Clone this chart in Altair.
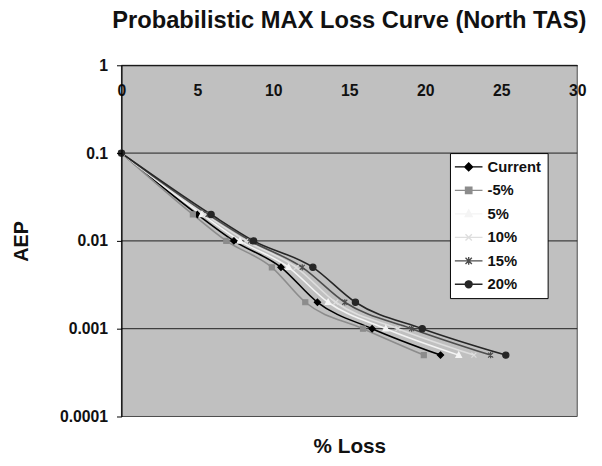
import altair as alt
import pandas as pd

series = ["Current", "-5%", "5%", "10%", "15%", "20%"]
aep = [0.1, 0.02, 0.01, 0.005, 0.002, 0.001, 0.0005]
loss_current = [0, 5.0, 7.4, 10.5, 12.9, 16.5, 21.0]
loss_m5 = [0, 4.7, 6.9, 9.9, 12.1, 15.9, 19.9]
loss_p5 = [0, 5.3, 7.8, 11.0, 13.6, 17.4, 22.2]
loss_p10 = [0, 5.5, 8.2, 11.5, 14.1, 18.2, 23.2]
loss_p15 = [0, 5.7, 8.5, 11.9, 14.7, 19.1, 24.3]
loss_p20 = [0, 5.9, 8.7, 12.6, 15.4, 19.8, 25.3]
x_ticks = [0, 5, 10, 15, 20, 25, 30]
y_ticks = [1, 0.1, 0.01, 0.001, 0.0001]

colors = ["#000000", "#8c8c8c", "#f4f4f4", "#dedede", "#4d4d4d", "#262626"]
marker_paths = [
    "M0,-1L1,0L0,1L-1,0Z",
    "M-0.8,-0.8L0.8,-0.8L0.8,0.8L-0.8,0.8Z",
    "M0,-1L0.9,0.7L-0.9,0.7Z",
    "M-0.8,-0.8L0.8,0.8M-0.8,0.8L0.8,-0.8",
    "M-0.8,-0.8L0.8,0.8M-0.8,0.8L0.8,-0.8M0,-1L0,1",
    "M1,0A1,1,0,1,1,-1,0A1,1,0,1,1,1,0Z",
]
# legend symbols: a short line with the marker in the middle
c = 0.71
s = 0.57
legend_paths = [
    f"M-1.29,0L2.71,0M{c},{-s}L{c+s},0L{c},{s}L{c-s},0Z",
    f"M-1.29,0L2.71,0M{c-0.46},-0.46L{c+0.46},-0.46L{c+0.46},0.46L{c-0.46},0.46Z",
    f"M-1.29,0L2.71,0M{c},-0.57L{c+0.5},0.4L{c-0.5},0.4Z",
    f"M-1.29,0L2.71,0M{c-0.46},-0.46L{c+0.46},0.46M{c-0.46},0.46L{c+0.46},-0.46",
    f"M-1.29,0L2.71,0M{c-0.46},-0.46L{c+0.46},0.46M{c-0.46},0.46L{c+0.46},-0.46M{c},-0.57L{c},0.57",
    f"M-1.29,0L2.71,0M{c+0.5},0A0.5,0.5,0,1,1,{c-0.5},0A0.5,0.5,0,1,1,{c+0.5},0Z",
]

losses = [loss_current, loss_m5, loss_p5, loss_p10, loss_p15, loss_p20]
rows = []
for name, vals in zip(series, losses):
    for a, l in zip(aep, vals):
        rows.append({"series": name, "loss": l, "aep": a})
df = pd.DataFrame(rows)
grid_df = pd.DataFrame({"tick": y_ticks[1:-1]})

FONT = "Liberation Sans"
W, H = 462, 356

y_axis = alt.Axis(
    values=y_ticks,
    labelExpr="datum.value >= 0.001 ? format(datum.value, '~g') : '0.0001'",
    labelFont=FONT, labelFontSize=16, labelFontWeight="bold", labelColor="#111",
    tickSize=5, tickColor="#000", labelPadding=9,
    domainColor="#000", domainWidth=1.2,
    grid=False, zindex=1,
    title="AEP", titleFont=FONT, titleFontSize=20, titleFontWeight="bold", titleColor="#111",
    titleX=-91, titleY=H / 2,
)
x_axis = alt.Axis(
    orient="top", values=x_ticks, labelFlush=False, ticks=False, tickSize=0,
    labelPadding=-26, labelBaseline="middle",
    labelFont=FONT, labelFontSize=16, labelFontWeight="bold", labelColor="#111",
    domainColor="#000", domainWidth=1.2, grid=False, zindex=1,
    title="% Loss", titleFont=FONT, titleFontSize=21, titleFontWeight="bold",
    titleColor="#111", titleX=W / 2, titleY=H + 36, titleBaseline="alphabetic",
)

x_scale = alt.Scale(domain=[0, 30])
y_scale = alt.Scale(type="log", domain=[0.0001, 1])
color_scale = alt.Scale(domain=series, range=colors)

background = alt.Chart().mark_rect(fill="#c0c0c0", stroke="#4a4a4a", strokeWidth=1).encode(
    x=alt.X(datum=0, scale=x_scale, axis=x_axis),
    x2=alt.datum(30),
    y=alt.Y(datum=1, scale=y_scale, axis=y_axis),
    y2=alt.datum(0.0001),
)

grid = alt.Chart(grid_df).mark_rule(color="#1e1e1e", strokeWidth=1).encode(
    y=alt.Y("tick:Q", scale=y_scale, axis=y_axis),
)

lines = alt.Chart(df).mark_line(strokeWidth=1.6, interpolate="monotone").encode(
    x=alt.X("loss:Q", scale=x_scale, axis=x_axis),
    y=alt.Y("aep:Q", scale=y_scale, axis=y_axis),
    color=alt.Color("series:N", scale=color_scale, legend=None),
    detail="series:N",
)

points = alt.Chart(df).mark_point(filled=True, size=40, strokeWidth=1.2, opacity=1).encode(
    x=alt.X("loss:Q", scale=x_scale, axis=x_axis),
    y=alt.Y("aep:Q", scale=y_scale, axis=y_axis),
    color=alt.Color("series:N", scale=color_scale, legend=None),
    stroke=alt.Stroke("series:N", scale=alt.Scale(domain=series, range=colors), legend=None),
    shape=alt.Shape("series:N", scale=alt.Scale(domain=series, range=marker_paths), legend=None),
)

leg_common = dict(
    orient="none", legendX=333, legendY=89, title=None,
    fillColor="#ffffff", strokeColor="#000000", padding=6,
    labelFont=FONT, labelFontSize=15, labelFontWeight="bold", labelColor="#111",
    labelOffset=16, rowPadding=7.8, symbolSize=196, symbolStrokeWidth=1.4,
)

legend_layer = alt.Chart(df).transform_filter("false").mark_point(
    filled=True, opacity=1, strokeWidth=1.4
).encode(
    color=alt.Color("series:N", scale=alt.Scale(domain=series, range=colors), legend=alt.Legend(**leg_common)),
    stroke=alt.Stroke("series:N", scale=alt.Scale(domain=series, range=colors), legend=alt.Legend(**leg_common)),
    shape=alt.Shape("series:N", scale=alt.Scale(domain=series, range=legend_paths), legend=alt.Legend(**leg_common)),
)

chart = (
    alt.layer(background, grid, lines, points, legend_layer)
    .resolve_scale(color="independent", stroke="independent", shape="independent")
    .properties(
        width=W, height=H,
        background="#ffffff",
        autosize=alt.AutoSizeParams(type="none"),
        padding={"left": 115, "top": 55, "right": 17, "bottom": 39},
        title=alt.Title(
            "Probabilistic MAX Loss Curve (North TAS)",
            font=FONT, fontSize=24, fontWeight="bold", color="#111",
            anchor="middle", frame="group", baseline="alphabetic", offset=6,
        ),
    )
    .configure_view(stroke=None)
)

chart.save("out.html", embed_options={"renderer": "svg", "actions": False})
